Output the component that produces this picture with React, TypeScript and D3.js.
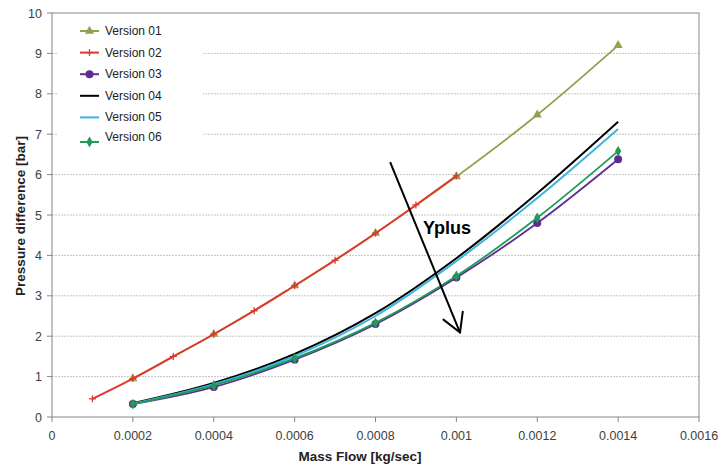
import React from 'react';
import * as d3 from 'd3';

// ---- data ----
const massFlow = [0.0002, 0.0004, 0.0006, 0.0008, 0.001, 0.0012, 0.0014];
const massFlowV02 = [0.0001, 0.0002, 0.0003, 0.0004, 0.0005, 0.0006, 0.0007, 0.0008, 0.0009, 0.001];
const version01 = [0.95, 2.05, 3.25, 4.55, 5.95, 7.48, 9.2];
const version02 = [0.45, 0.95, 1.5, 2.05, 2.63, 3.25, 3.88, 4.55, 5.25, 5.97];
const version03 = [0.32, 0.74, 1.42, 2.3, 3.45, 4.8, 6.38];
const version04 = [0.34, 0.84, 1.56, 2.57, 3.93, 5.54, 7.31];
const version05 = [0.33, 0.81, 1.51, 2.5, 3.86, 5.42, 7.13];
const version06 = [0.32, 0.78, 1.45, 2.33, 3.49, 4.93, 6.58];
const seriesNames = ['Version 01', 'Version 02', 'Version 03', 'Version 04', 'Version 05', 'Version 06'];
const xTicks = [0, 0.0002, 0.0004, 0.0006, 0.0008, 0.001, 0.0012, 0.0014, 0.0016];
const yTicks = [0, 1, 2, 3, 4, 5, 6, 7, 8, 9, 10];
const arrowFrom = [0.000837, 6.29];
const arrowTo = [0.001009, 2.09];
const annotation = 'Yplus';
const xTitle = 'Mass Flow [kg/sec]';
const yTitle = 'Pressure difference [bar]';

// ---- styles ----
const styles = [
  { color: '#8FA34C', marker: 'triangle', width: 1.8 },
  { color: '#E2352B', marker: 'plus', width: 1.8 },
  { color: '#5E2D91', marker: 'circle', width: 1.8 },
  { color: '#000000', marker: 'none', width: 2 },
  { color: '#3BB4E0', marker: 'none', width: 2 },
  { color: '#1F9B57', marker: 'diamond', width: 1.8 },
];

const W = 718, H = 465;
const M = { left: 52, top: 13, right: 19, bottom: 48 };
const FONT = '"Liberation Sans", Arial, sans-serif';

function Marker({ type, x, y, color }: { type: string; x: number; y: number; color: string }) {
  if (type === 'none') return null;
  if (type === 'plus') {
    return (
      <g stroke={color} strokeWidth={1.3}>
        <line x1={x - 3.5} x2={x + 3.5} y1={y} y2={y} />
        <line x1={x} x2={x} y1={y - 3.5} y2={y + 3.5} />
      </g>
    );
  }
  const sym =
    type === 'triangle' ? d3.symbolTriangle : type === 'circle' ? d3.symbolCircle : d3.symbolDiamond;
  const size = type === 'triangle' ? 36 : type === 'circle' ? 50 : 34;
  const p = d3.symbol().type(sym).size(size)() as string;
  return <path d={p} transform={`translate(${x},${y})`} fill={color} />;
}

export default function App() {
  const x = d3.scaleLinear().domain([0, 0.0016]).range([M.left, W - M.right]);
  const y = d3.scaleLinear().domain([0, 10]).range([H - M.bottom, M.top]);
  const series = [
    { xs: massFlow, ys: version01 },
    { xs: massFlowV02, ys: version02 },
    { xs: massFlow, ys: version03 },
    { xs: massFlow, ys: version04 },
    { xs: massFlow, ys: version05 },
    { xs: massFlow, ys: version06 },
  ];
  const line = d3
    .line<[number, number]>()
    .x((d) => x(d[0]))
    .y((d) => y(d[1]))
    .curve(d3.curveCatmullRom.alpha(0.5));

  const x0 = x(0), x1 = x(0.0016), y0 = y(0), y1 = y(10);
  const ax1 = x(arrowFrom[0]), ay1 = y(arrowFrom[1]);
  const ax2 = x(arrowTo[0]), ay2 = y(arrowTo[1]);
  const ang = Math.atan2(ay2 - ay1, ax2 - ax1);
  const wing = 21, spread = 0.52;
  const w1 = [ax2 - wing * Math.cos(ang - spread), ay2 - wing * Math.sin(ang - spread)];
  const w2 = [ax2 - wing * Math.cos(ang + spread), ay2 - wing * Math.sin(ang + spread)];

  const legendX = 80, legendY = 31, legendStep = 21.6;

  return (
    <div style={{ position: 'fixed', left: 0, top: 0 }}>
      <svg width={W} height={H} style={{ display: 'block', background: '#fff' }} fontFamily={FONT}>
        <rect width={W} height={H} fill="#fff" />
        {/* gridlines */}
        {yTicks.slice(1, -1).map((t) => (
          <line key={t} x1={x0} x2={x1} y1={y(t)} y2={y(t)} stroke="#c4c4c4" strokeWidth={1} strokeDasharray="2,1" />
        ))}
        {/* legend background */}
        <rect x={57} y={17} width={146} height={134} fill="#fff" />
        {/* plot border */}
        <rect x={x0} y={y1} width={x1 - x0} height={y0 - y1} fill="none" stroke="#868686" strokeWidth={1} />
        {/* ticks */}
        {yTicks.map((t) => (
          <g key={t}>
            <line x1={x0 - 5} x2={x0} y1={y(t)} y2={y(t)} stroke="#868686" />
            <text x={x0 - 10} y={y(t) + 4.5} textAnchor="end" fontSize={12.5} fill="#404040">
              {t}
            </text>
          </g>
        ))}
        {xTicks.map((t) => (
          <g key={t}>
            <line x1={x(t)} x2={x(t)} y1={y0} y2={y0 + 5} stroke="#868686" />
            <text x={x(t)} y={y0 + 23} textAnchor="middle" fontSize={12.5} fill="#404040">
              {t}
            </text>
          </g>
        ))}
        {/* axis titles */}
        <text x={360} y={461} textAnchor="middle" fontSize={13.5} fontWeight="bold" fill="#222">
          {xTitle}
        </text>
        <text
          transform={`translate(25,216) rotate(-90)`}
          textAnchor="middle"
          fontSize={13.5}
          fontWeight="bold"
          fill="#222"
        >
          {yTitle}
        </text>
        {/* series */}
        {series.map((s, i) => {
          const pts = s.xs.map((v, j) => [v, s.ys[j]] as [number, number]);
          return (
            <g key={i}>
              <path d={line(pts) as string} fill="none" stroke={styles[i].color} strokeWidth={styles[i].width} />
              {pts.map((p, j) => (
                <Marker key={j} type={styles[i].marker} x={x(p[0])} y={y(p[1])} color={styles[i].color} />
              ))}
            </g>
          );
        })}
        {/* annotation */}
        <g stroke="#000" strokeWidth={2} fill="none" strokeLinecap="round" strokeLinejoin="round">
          <line x1={ax1} y1={ay1} x2={ax2} y2={ay2} />
          <polyline points={`${w1[0]},${w1[1]} ${ax2},${ay2} ${w2[0]},${w2[1]}`} />
        </g>
        <text x={423} y={234} fontSize={18} fontWeight="bold" fill="#000">
          {annotation}
        </text>
        {/* legend */}
        {seriesNames.map((n, i) => {
          const ly = legendY + i * legendStep + (i === 5 ? 3 : 0);
          return (
            <g key={n}>
              <line x1={legendX} x2={legendX + 19} y1={ly} y2={ly} stroke={styles[i].color} strokeWidth={2} />
              <Marker type={styles[i].marker} x={legendX + 9.5} y={ly} color={styles[i].color} />
              <text x={legendX + 25} y={ly + (i === 5 ? -1 : 4)} fontSize={12} fill="#222">
                {n}
              </text>
            </g>
          );
        })}
      </svg>
    </div>
  );
}
